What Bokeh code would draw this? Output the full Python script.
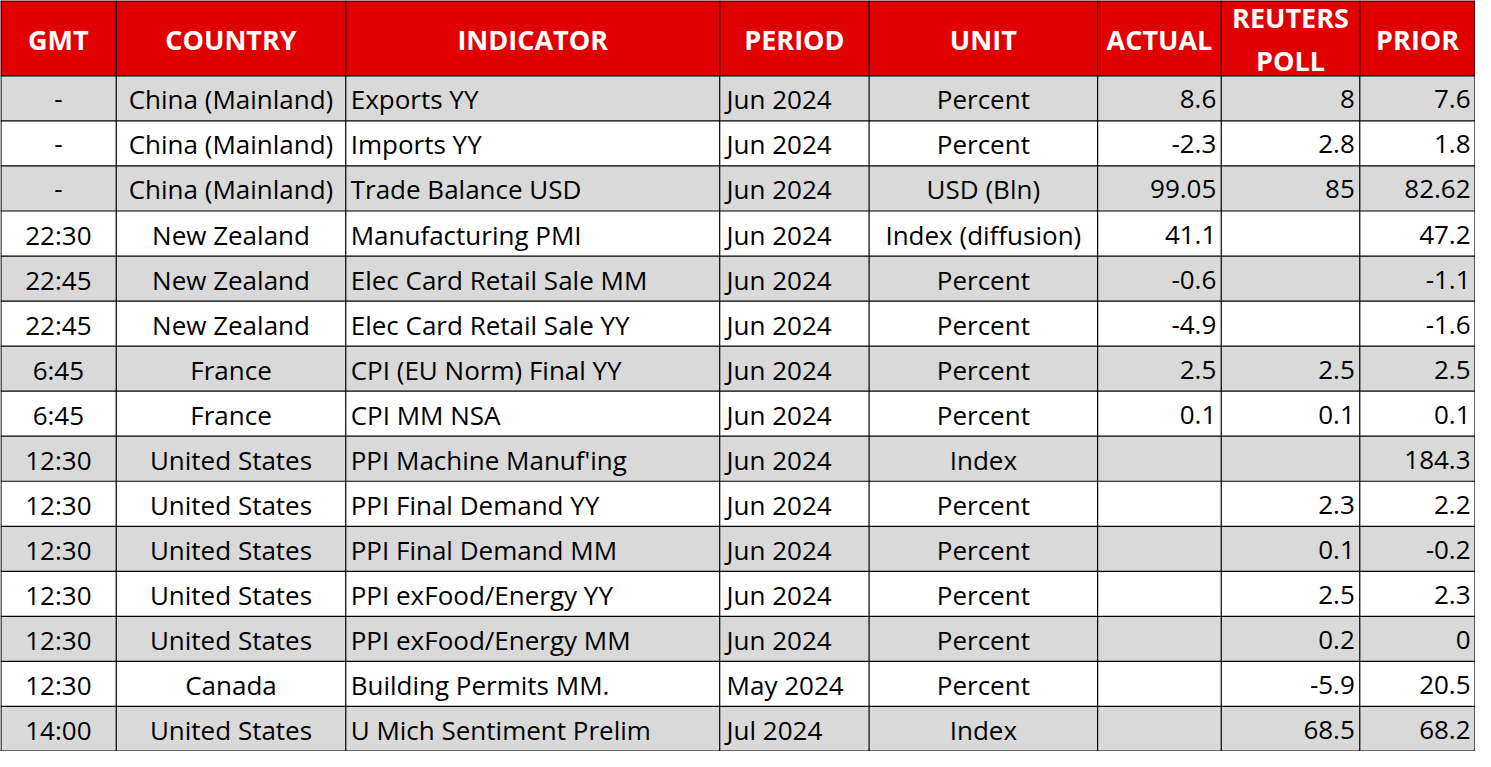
from bokeh.plotting import figure
from bokeh.models import Range1d, ColumnDataSource
from bokeh.core.properties import value
from bokeh.embed import file_html
from bokeh.resources import INLINE

headers = ["GMT", "COUNTRY", "INDICATOR", "PERIOD", "UNIT", "ACTUAL", "REUTERS\nPOLL", "PRIOR"]
gmt = ["-", "-", "-", "22:30", "22:45", "22:45", "6:45", "6:45", "12:30", "12:30",
       "12:30", "12:30", "12:30", "12:30", "14:00"]
country = ["China (Mainland)", "China (Mainland)", "China (Mainland)", "New Zealand",
           "New Zealand", "New Zealand", "France", "France", "United States",
           "United States", "United States", "United States", "United States",
           "Canada", "United States"]
indicator = ["Exports YY", "Imports YY", "Trade Balance USD", "Manufacturing PMI",
             "Elec Card Retail Sale MM", "Elec Card Retail Sale YY", "CPI (EU Norm) Final YY",
             "CPI MM NSA", "PPI Machine Manuf'ing", "PPI Final Demand YY",
             "PPI Final Demand MM", "PPI exFood/Energy YY", "PPI exFood/Energy MM",
             "Building Permits MM.", "U Mich Sentiment Prelim"]
period = ["Jun 2024"] * 13 + ["May 2024", "Jul 2024"]
unit = ["Percent", "Percent", "USD (Bln)", "Index (diffusion)", "Percent", "Percent",
        "Percent", "Percent", "Index", "Percent", "Percent", "Percent", "Percent",
        "Percent", "Index"]
actual = [8.6, -2.3, 99.05, 41.1, -0.6, -4.9, 2.5, 0.1, None, None, None, None, None, None, None]
poll = [8, 2.8, 85, None, None, None, 2.5, 0.1, None, 2.3, 0.1, 2.5, 0.2, -5.9, 68.5]
prior = [7.6, 1.8, 82.62, 47.2, -1.1, -1.6, 2.5, 0.1, 184.3, 2.2, -0.2, 2.3, 0, 20.5, 68.2]

# layout (in reference pixel units)
col_edges = [0, 117, 349, 727, 878, 1109, 1234, 1374, 1491]
align = ["center", "center", "left", "left", "center", "right", "right", "right"]
pads = [0, 0, 5, 7, 0, 5, 5, 5]
header_h = 77
row_h = 46
W, H = 1491, 767


def fmt(v):
    return "" if v is None else f"{v:g}"


columns = [gmt, country, indicator, period, unit,
           [fmt(v) for v in actual], [fmt(v) for v in poll], [fmt(v) for v in prior]]
n_rows = len(gmt)

p = figure(width=1475, height=751, output_backend="svg", toolbar_location=None,
           x_range=Range1d(0, W), y_range=Range1d(H, 0), min_border=0,
           background_fill_color="white", border_fill_color="white")
p.axis.visible = False
p.grid.visible = False
p.outline_line_color = None

# header background
p.quad(left=[0], right=[W], top=[0], bottom=[header_h], fill_color="#E00000", line_color=None)

# row backgrounds
tops = [header_h + i * row_h for i in range(n_rows)]
bots = [t + row_h for t in tops]
fills = ["#D9D9D9" if i % 2 == 0 else "#FFFFFF" for i in range(n_rows)]
p.quad(left=[0] * n_rows, right=[W] * n_rows, top=tops, bottom=bots, fill_color=fills, line_color=None)

# grid lines
x0, y0, x1, y1 = [], [], [], []
for e in col_edges:
    ex = min(max(e, 0.5), W - 0.5)
    x0.append(ex); x1.append(ex); y0.append(0); y1.append(H)
row_edges = [0, header_h] + bots
for e in row_edges:
    ey = min(max(e, 0.5), H - 0.5)
    x0.append(0); x1.append(W); y0.append(ey); y1.append(ey)
p.segment(x0=x0, y0=y0, x1=x1, y1=y1, line_color="black", line_width=1.2)

# header text
hx, hy, ht = [], [], []
for j, h in enumerate(headers):
    hx.append((col_edges[j] + col_edges[j + 1]) / 2)
    hy.append(header_h / 2 + 1)
    ht.append(h)
p.text(x=hx, y=hy, text=ht, text_color="white", text_font=value("Open Sans"),
       text_font_style="bold", text_font_size="27px", text_align="center",
       text_baseline="middle", text_line_height=1.15)

# body text
for j, col in enumerate(columns):
    a = align[j]
    if a == "center":
        xs = (col_edges[j] + col_edges[j + 1]) / 2
    elif a == "left":
        xs = col_edges[j] + pads[j]
    else:
        xs = col_edges[j + 1] - pads[j]
    src = ColumnDataSource(dict(x=[xs] * n_rows,
                                y=[t + row_h / 2 + 1 for t in tops],
                                t=col))
    p.text(x="x", y="y", text="t", source=src, text_color="black",
           text_font=value("Open Sans"), text_font_size="26px", text_align=a,
           text_baseline="middle")

open("out.html", "w").write(file_html(p, INLINE))
